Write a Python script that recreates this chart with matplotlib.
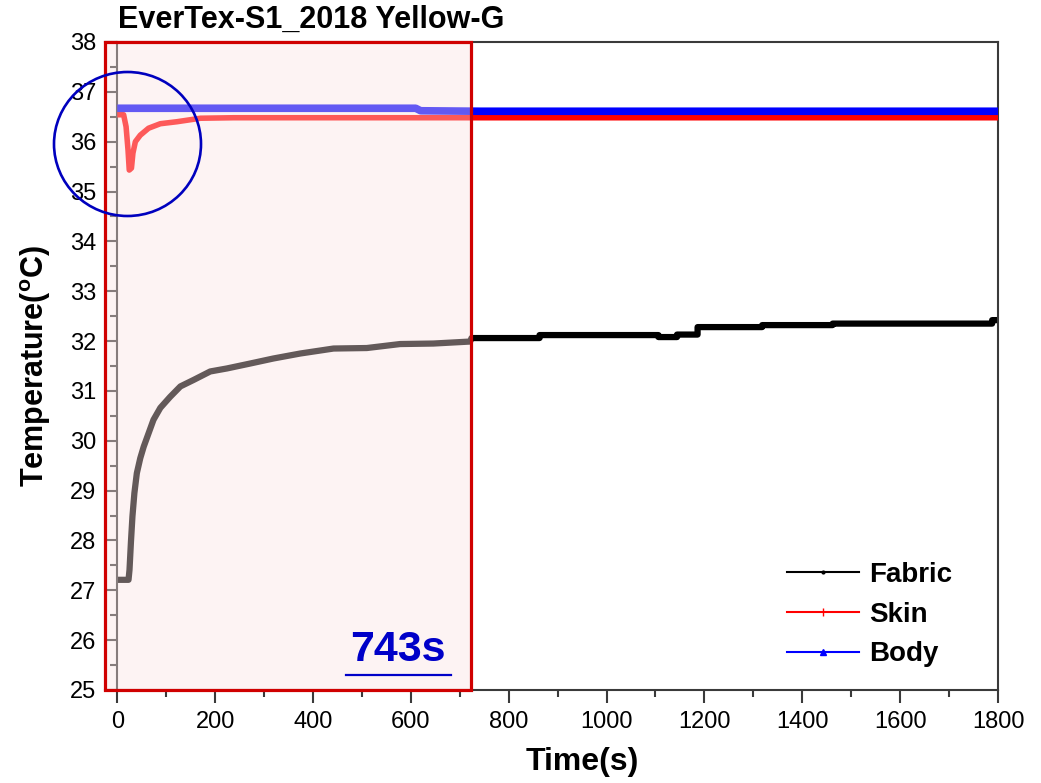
import matplotlib
matplotlib.use("Agg")
import matplotlib.pyplot as plt
from matplotlib.patches import Rectangle, Ellipse
from matplotlib.lines import Line2D
from matplotlib.ticker import MultipleLocator

plt.rcParams['font.family'] = ['Liberation Sans', 'DejaVu Sans']

title = "EverTex-S1_2018 Yellow-G"
series_names = ["Fabric", "Skin", "Body"]

# values (repeated times mark the logger's steps)
fabric_t = [0, 23, 25, 28, 31, 35, 40, 47, 54, 64, 74, 88, 108, 129, 156, 190, 224,
            272, 319, 374, 442, 510, 578, 646, 721,
            724, 863, 863, 1106, 1106, 1144, 1144, 1186, 1186, 1318, 1318,
            1462, 1462, 1788, 1788, 1800]
fabric_T = [27.21, 27.21, 27.41, 27.98, 28.48, 28.95, 29.35, 29.65, 29.88, 30.15, 30.42,
            30.66, 30.88, 31.09, 31.22, 31.39, 31.45, 31.55, 31.65, 31.75, 31.85, 31.86,
            31.94, 31.95, 31.99,
            32.06, 32.06, 32.12, 32.12, 32.08, 32.08, 32.13, 32.13, 32.28, 32.28, 32.32,
            32.32, 32.35, 32.35, 32.42, 32.42]

skin_t = [0, 13, 18, 22, 24.5, 29, 32, 37, 47, 64, 88, 122, 170, 238, 442, 743, 1000,
          1400, 1800]
skin_T = [36.54, 36.54, 36.30, 35.83, 35.43, 35.47, 35.77, 36.00, 36.13, 36.27, 36.36,
          36.40, 36.47, 36.48, 36.48, 36.48, 36.48, 36.48, 36.48]

body_t = [0, 300, 610, 620, 743, 1000, 1400, 1800]
body_T = [36.67, 36.67, 36.67, 36.62, 36.61, 36.61, 36.61, 36.61]

window_end = 722.7
window_label = "743s"

fig = plt.figure(figsize=(10.41, 7.83), dpi=100)
ax = fig.add_axes([0.1009, 0.1188, 0.8578, 0.8276])

ax.plot(fabric_t, fabric_T, color='black', lw=4.5, solid_capstyle='butt', zorder=2)
ax.plot(skin_t, skin_T, color='#FF0000', lw=4.0, solid_capstyle='butt', zorder=3)
ax.plot(body_t, body_T, color='#0000FF', lw=5.5, solid_capstyle='butt', zorder=4)

ax.set_xlim(-25, 1800)
ax.set_ylim(25, 38)
ax.xaxis.set_major_locator(MultipleLocator(200))
ax.xaxis.set_minor_locator(MultipleLocator(100))
ax.yaxis.set_major_locator(MultipleLocator(1))
ax.yaxis.set_minor_locator(MultipleLocator(0.5))

ax.spines['left'].set_position(('data', 0))
for s in ax.spines.values():
    s.set_color('#3a3a3a')
    s.set_linewidth(1.5)
ax.tick_params(which='major', direction='out', length=9, width=1.5, color='#3a3a3a',
               labelsize=17, pad=6)
ax.tick_params(which='minor', direction='out', length=5, width=1.5, color='#3a3a3a')

# highlighted window: translucent overlay on top of the data, solid red edge
ax.add_patch(Rectangle((-25, 25), window_end + 25, 13, facecolor=(250/255, 225/255, 225/255),
                       alpha=0.4, edgecolor='none', zorder=5))
ax.add_patch(Rectangle((-25, 25), window_end + 25, 13, facecolor='none',
                       edgecolor='#D00000', lw=2.3, zorder=6, clip_on=False))

ax.text(573.6, 25.80, window_label, color='#0000C8', fontsize=31, fontweight='bold',
        ha='center', va='center', zorder=7)
fig.add_artist(Line2D([346/1041, 451/1041], [1 - 675/783, 1 - 675/783],
                      color='#0000C8', lw=1.6, transform=fig.transFigure))

ax.set_xlabel("Time(s)", fontsize=23, fontweight='bold')
ax.xaxis.set_label_coords(0.535, -0.088)
ax.set_ylabel("Temperature($^{\\mathregular{o}}$C)", fontsize=22, fontweight='bold')
ax.yaxis.set_label_coords(-0.058, 0.5)

fig.text(118/1041, 1 - 20/783, title, fontsize=22, fontweight='bold', ha='left', va='center')

handles = [Line2D([], [], color='black', lw=1.5, marker='.', markersize=4),
           Line2D([], [], color='#FF0000', lw=1.5, marker='|', markersize=6),
           Line2D([], [], color='#0000FF', lw=1.5, marker='^', markersize=5)]
ax.legend(handles, series_names, loc='upper left', bbox_to_anchor=(0.764, 0.198),
          frameon=False, prop={'weight': 'bold', 'size': 20},
          handlelength=2.6, handletextpad=0.35, labelspacing=0.5, borderpad=0,
          borderaxespad=0, numpoints=1)

fig.add_artist(Ellipse((127.5/1041, 1 - 144/783), 147/1041, 144/783, fill=False,
                       edgecolor='#0000BE', lw=1.9, transform=fig.transFigure))

fig.savefig("out.png", dpi=100)
